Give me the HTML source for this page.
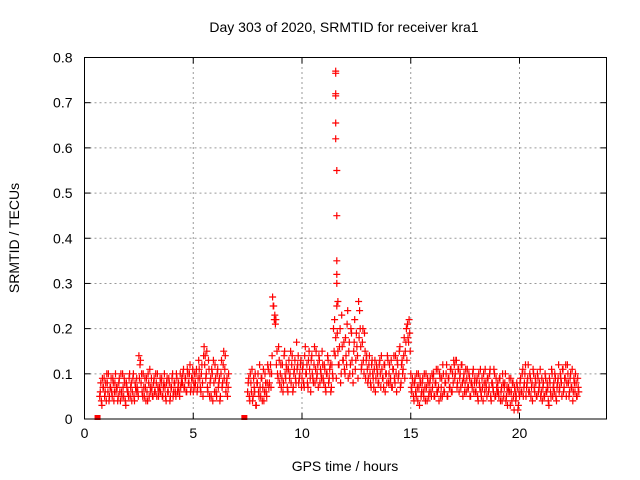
<!DOCTYPE html>
<html><head><meta charset="utf-8"><style>
body{margin:0;background:#fff}
svg{display:block;font-family:"Liberation Sans",sans-serif}
</style></head><body>
<svg id="chart" width="640" height="480">
<rect width="640" height="480" fill="#fff"/>
<text x="344" y="32" font-size="14" text-anchor="middle">Day 303 of 2020, SRMTID for receiver kra1</text>
<text transform="translate(19,238) rotate(-90)" font-size="14" text-anchor="middle">SRMTID / TECUs</text>
<text x="345" y="471" font-size="14" text-anchor="middle">GPS time / hours</text>
<g id="grid"></g>
<g id="ticks"></g>
<g id="pts"></g>
<rect x="84.5" y="57.5" width="522" height="361.5" fill="none" stroke="#000" stroke-width="1"/>
</svg>
<script>
const xTicks=[0,5,10,15,20];
const yTicks=[0,0.1,0.2,0.3,0.4,0.5,0.6,0.7,0.8];
const yTickLabels=["0","0.1","0.2","0.3","0.4","0.5","0.6","0.7","0.8"];
const segAStart=0.7, segAStep=0.05;
const segAValues=[.05,.08,.03,.07,.09,.06,.04,.08,.10,.05,.07,.06,.09,.04,.08,.06,
.07,.05,.09,.04,.06,.10,.05,.08,.03,.07,.06,.09,.05,.08,.06,.10,.04,.07,.09,.06,
.14,.12,.08,.06,.10,.05,.07,.09,.04,.08,.11,.06,.07,.05,.09,.06,.08,.10,.05,.07,
.06,.09,.05,.08,.07,.04,.09,.06,.08,.05,.07,.10,.06,.08,.05,.09,.07,.06,.10,.08,
.08,.11,.07,.09,.06,.10,.08,.12,.07,.09,.06,.10,.08,.11,.07,.13,.09,.06,.12,.05,
.16,.14,.10,.07,.13,.05,.09,.11,.04,.08,.12,.06,.10,.07,.09,.05,.13,.08,.15,.11,.06,.09,.07];
const segA2Values=[.06,.04,.09,.07,.05,.08,.10,.06,.04,.07,.09,.05,.08,.06,.10,.07,
.04,.08,.06,.10,.05,.07,.09,.04,.08,.06,.05,.10,.07,.04,.09,.05,.08,.06,.07,.05,
.09,.13,.10,.05,.07,.09,.04,.06,.10,.05,.07,.09,.05,.08,.06,.10,.05,.07,.06,.09,
.08,.05,.07,.10,.05,.08,.06,.09,.04,.07,.09,.05,.08,.06,.10,.06,.08,.05,.07,.09,
.10,.07,.09,.06,.11,.08,.10,.06,.09,.11,.08,.07,.10,.06,.09,.11,.07,.10,.08,.14,
.12,.09,.15,.06,.11,.08,.05,.10,.13,.06,.09,.05,.11,.08,.04,.10,.07,.12,.09,.14,.08,.05,.10];
const segBStart=7.5, segBStep=0.05;
const segBValues=[.06,.09,.04,.08,.11,.05,.07,.10,.03,.08,.06,.12,.05,.09,.07,.04,.10,.06,.08,.11,
.08,.12,.10,.27,.25,.23,.22,.15,.09,.13,
.10,.07,.12,.08,.15,.09,.11,.06,.13,.10,.08,.14,.07,.11,.09,.17,.12,.08,.10,.13,
.09,.12,.07,.16,.10,.08,.13,.11,.06,.14,.09,.12,.08,.15,.10,.07,.13,.11,.09,.12,
.08,.11,.06,.10,.13,.09,.12,.07,.10,.20,
.22,.18,.25,.15,.12,.20,.10,.16,.13,.11,
.18,.12,.24,.15,.10,.20,.13,.08,.17,.11,.19,.14,.26,.24,.16,.12,.20,.10,.15,.13,
.11,.09,.14,.08,.12,.10,.07,.13,.09,.11,.08,.12,.10,.14,.09,.07,.12,.10,.08,.13,
.10,.08,.13,.07,.11,.09,.14,.06,.12,.10,.16,.08,.13,.11,.18,.15,.20,.21,.17,.19,
.10,.06,.08,.04,.09,.05,.07,.10,.03,.08,.06,.09,.05,.07,.10,.04,.08,.06,.09,.05,
.07,.10,.05,.08,.06,.11,.04,.09,.07,.05,.10,.06,.08,.12,.05,.09,.07,.11,.06,.08,
.12,.10,.13,.08,.11,.09,.07,.12,.05,.10,.08,.06,.11,.07,.09,.05,.08,.10,.06,.09,
.06,.09,.04,.08,.11,.05,.07,.10,.06,.08,.05,.09,.07,.11,.04,.08,.06,.10,.05,.07,
.08,.05,.09,.06,.04,.08,.07,.10,.05,.03,.07,.06,.09,.04,.08,.02,.06,.05,.07,.03,
.05,.09,.06,.11,.07,.10,.05,.08,.12,.06,.09,.07,.04,.10,.06,.08,.05,.09,.07,.11,
.06,.04,.08,.05,.09,.06,.07,.03,.08,.05,.10,.07,.06,.09,.04,.08,.12,.07,.09,.05,
.11,.07,.09,.05,.12,.08,.06,.10,.07,.04,.09,.06,.08,.05,.07];
const segB2Values=[.08,.05,.10,.06,.04,.09,.06,.03,.08,.10,.05,.07,.09,.04,.11,.06,.08,.05,.12,.07,
.10,.07,.14,.25,.22,.21,.12,.10,.16,.08,
.12,.09,.06,.14,.10,.12,.07,.11,.09,.15,.12,.06,.10,.13,.08,.11,.14,.09,.12,.07,
.11,.08,.14,.10,.12,.07,.15,.09,.13,.10,.08,.16,.11,.09,.12,.14,.08,.10,.15,.09,
.12,.07,.10,.14,.08,.11,.06,.12,.09,.15,
.14,.09,.19,.12,.16,.08,.23,.13,.17,.10,
.14,.21,.09,.17,.12,.19,.10,.15,.22,.13,.16,.09,.18,.20,.11,.17,.13,.19,.09,.14,
.08,.12,.10,.07,.13,.09,.11,.06,.12,.10,.08,.13,.07,.11,.09,.12,.06,.10,.14,.08,
.12,.09,.07,.11,.14,.08,.10,.13,.09,.15,.07,.12,.10,.14,.09,.17,.13,.18,.22,.15,
.07,.09,.05,.08,.06,.10,.04,.07,.09,.05,.08,.06,.10,.04,.07,.09,.05,.08,.06,.10,
.09,.05,.08,.11,.06,.07,.10,.05,.09,.12,.06,.08,.10,.05,.09,.07,.11,.06,.10,.13,
.09,.13,.07,.11,.06,.10,.12,.08,.09,.06,.11,.09,.07,.10,.05,.08,.07,.11,.08,.06,
.08,.05,.10,.07,.06,.09,.04,.08,.11,.07,.09,.06,.10,.05,.08,.07,.11,.05,.09,.06,
.06,.09,.04,.07,.10,.05,.08,.04,.07,.06,.09,.03,.06,.08,.05,.07,.04,.08,.02,.06,
.08,.06,.10,.05,.08,.12,.07,.09,.06,.10,.05,.08,.11,.07,.09,.05,.10,.06,.08,.05,
.09,.07,.05,.10,.06,.08,.04,.09,.06,.11,.05,.08,.10,.05,.07,.09,.06,.10,.08,.11,
.06,.09,.12,.08,.10,.05,.09,.07,.11,.06,.08,.10,.05,.09,.06];
const spikeTimes=[11.55,11.55,11.55,11.55,11.55,11.55,11.6,11.6,11.6,11.6,11.6,11.65];
const spikeValues=[.77,.765,.72,.715,.655,.62,.55,.45,.35,.32,.30,.26];
const zeroTimes=[0.6,7.35];
const X0=84.5,X1=606.5,Y0=419,Y1=57.5,XMAX=24,YMAX=0.8;
const sx=v=>X0+v/XMAX*(X1-X0);
const sy=v=>Y0-v/YMAX*(Y0-Y1);
const NS="http://www.w3.org/2000/svg";
const grid=document.getElementById('grid'),ticks=document.getElementById('ticks'),pts=document.getElementById('pts');
function mk(tag,attrs,parent){const e=document.createElementNS(NS,tag);for(const k in attrs)e.setAttribute(k,attrs[k]);parent.appendChild(e);return e;}
yTicks.forEach((v,i)=>{const y=sy(v);
 if(v>0&&v<YMAX){const g=mk('line',{x1:X0,x2:X1,y1:y,y2:y,stroke:'#999','stroke-dasharray':'2,3'},grid);
 
 }
 mk('line',{x1:X0,x2:X0+6,y1:y,y2:y,stroke:'#000'},ticks);
 mk('line',{x1:X1-6,x2:X1,y1:y,y2:y,stroke:'#000'},ticks);
 const t=mk('text',{x:X0-12,y:y+5,'font-size':14,'text-anchor':'end'},ticks);t.textContent=yTickLabels[i];
 
 
});
xTicks.forEach(v=>{const x=sx(v);
 if(v>0){const g=mk('line',{x1:x,x2:x,y1:Y0,y2:Y1,stroke:'#999','stroke-dasharray':'2,3'},grid);
 
 }
 mk('line',{x1:x,x2:x,y1:Y0,y2:Y0-6,stroke:'#000'},ticks);
 mk('line',{x1:x,x2:x,y1:Y1,y2:Y1+6,stroke:'#000'},ticks);
 const t=mk('text',{x:x,y:Y0+19,'font-size':14,'text-anchor':'middle'},ticks);t.textContent=String(v);
 
 
});
let d='';
function plus(t,v){const x=sx(t),y=sy(v);d+=`M${(x-3.5).toFixed(1)} ${y.toFixed(1)}h7M${x.toFixed(1)} ${(y-3.5).toFixed(1)}v7`;}
segAValues.forEach((v,i)=>plus(segAStart+i*segAStep,v));
segA2Values.forEach((v,i)=>plus(segAStart+0.025+i*segAStep,v));
segBValues.forEach((v,i)=>plus(segBStart+i*segBStep,v));
segB2Values.forEach((v,i)=>plus(segBStart+0.025+i*segBStep,v));
spikeValues.forEach((v,i)=>plus(spikeTimes[i],v));
const p=mk('path',{d:d,stroke:'#f00','stroke-width':1.2,fill:'none'},pts);


zeroTimes.forEach(t=>{const r=mk('rect',{x:sx(t)-3,y:Y0-4,width:6,height:5,fill:'#f00'},pts);
 
 });
</script>
</body></html>
